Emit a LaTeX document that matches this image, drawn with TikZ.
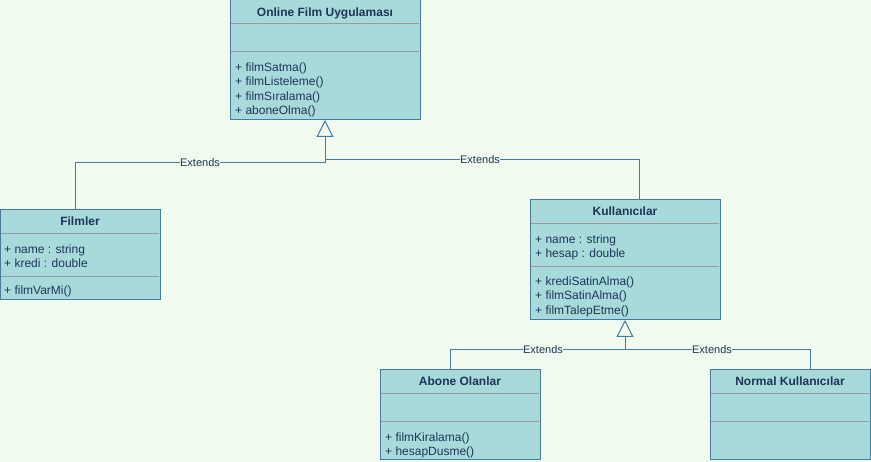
\documentclass[tikz,border=0pt]{standalone}
\usepackage{fontspec}
\setmainfont{Liberation Sans}
\usetikzlibrary{arrows.meta}
\definecolor{bg}{HTML}{F1FAEE}
\definecolor{fillc}{HTML}{A8DADC}
\definecolor{strokec}{HTML}{457B9D}
\definecolor{txt}{HTML}{1D3557}
\definecolor{sepc}{HTML}{9C9A9C}
\begin{document}
\begin{tikzpicture}[x=1pt,y=-1pt,
  classbox/.style={draw=strokec, fill=fillc, line width=1pt, anchor=north west, inner sep=0pt, outer sep=0pt},
  ctitle/.style={anchor=base, inner sep=0pt, text=txt, font=\bfseries\fontsize{12}{14}\selectfont},
  member/.style={anchor=base west, inner sep=0pt, text=txt, font=\fontsize{12}{14}\selectfont},
  sepline/.style={draw=sepc, line width=1pt},
  conn/.style={draw=strokec, line width=1pt},
  inherit/.style={conn, -{Triangle[open, length=17pt, width=17pt, line width=1pt]}},
  extlabel/.style={fill=bg, inner sep=0.5pt, text=txt, font=\fontsize{11}{13}\selectfont}
]
\fill[bg] (0,0) rectangle (871,462);
\useasboundingbox (0,0) rectangle (871,462);

% Online Film Uygulamasi
\node[classbox, minimum width=190pt, minimum height=120pt] (ofu) at (230,0) {};
\draw[sepline] (230.5,24) -- (419,24);
\draw[sepline] (230.5,52) -- (419,52);
\node[ctitle] (ofut) at (325,16.5) {Online Film Uygulaması};
\node[member] (o1) at (235,71.5) {+ filmSatma()};
\node[member] (o2) at (235,86) {+ filmListeleme()};
\node[member] (o3) at (235,100.5) {+ filmSıralama()};
\node[member] (o4) at (235,115) {+ aboneOlma()};

% Filmler
\node[classbox, minimum width=160pt, minimum height=90pt] (fil) at (0,210) {};
\draw[sepline] (0.5,234) -- (159,234);
\draw[sepline] (0.5,277) -- (159,277);
\node[ctitle] (filt) at (80,225.5) {Filmler};
\node[member] (f1) at (4,253.5) {+ name : string};
\node[member] (f2) at (4,268) {+ kredi : double};
\node[member] (f3) at (4,295) {+ filmVarMi()};

% Kullanicilar
\node[classbox, minimum width=190pt, minimum height=120pt] (kul) at (530,200) {};
\draw[sepline] (530.5,224) -- (719,224);
\draw[sepline] (530.5,266.5) -- (719,266.5);
\node[ctitle] (kult) at (625,215.5) {Kullanıcılar};
\node[member] (k1) at (535,243.5) {+ name : string};
\node[member] (k2) at (535,258) {+ hesap : double};
\node[member] (k3) at (535,285.5) {+ krediSatinAlma()};
\node[member] (k4) at (535,300) {+ filmSatinAlma()};
\node[member] (k5) at (535,314.5) {+ filmTalepEtme()};

% Abone Olanlar
\node[classbox, minimum width=160pt, minimum height=90pt] (abo) at (380,370) {};
\draw[sepline] (380.5,394) -- (539,394);
\draw[sepline] (380.5,422) -- (539,422);
\node[ctitle] (abot) at (460,386) {Abone Olanlar};
\node[member] (a1) at (385,441.5) {+ filmKiralama()};
\node[member] (a2) at (385,456) {+ hesapDusme()};

% Normal Kullanicilar
\node[classbox, minimum width=160pt, minimum height=90pt] (nor) at (710,370) {};
\draw[sepline] (710.5,394) -- (869,394);
\draw[sepline] (710.5,422) -- (869,422);
\node[ctitle] (nort) at (790,386) {Normal Kullanıcılar};

% Connectors
\draw[inherit] ([xshift=-5pt]fil.north) |- (325,163) -- (ofu.south);
\draw[conn] ([xshift=14pt]kul.north) |- (325,160);
\draw[inherit] ([xshift=-10pt]abo.north) |- (625,350) -- (kul.south);
\draw[conn] ([xshift=20pt]nor.north) |- (625,350);

\node[extlabel] (e1) at (200,163) {Extends};
\node[extlabel] (e2) at (480,159.5) {Extends};
\node[extlabel] (e3) at (543,350) {Extends};
\node[extlabel] (e4) at (712,350) {Extends};
\end{tikzpicture}
\end{document}
